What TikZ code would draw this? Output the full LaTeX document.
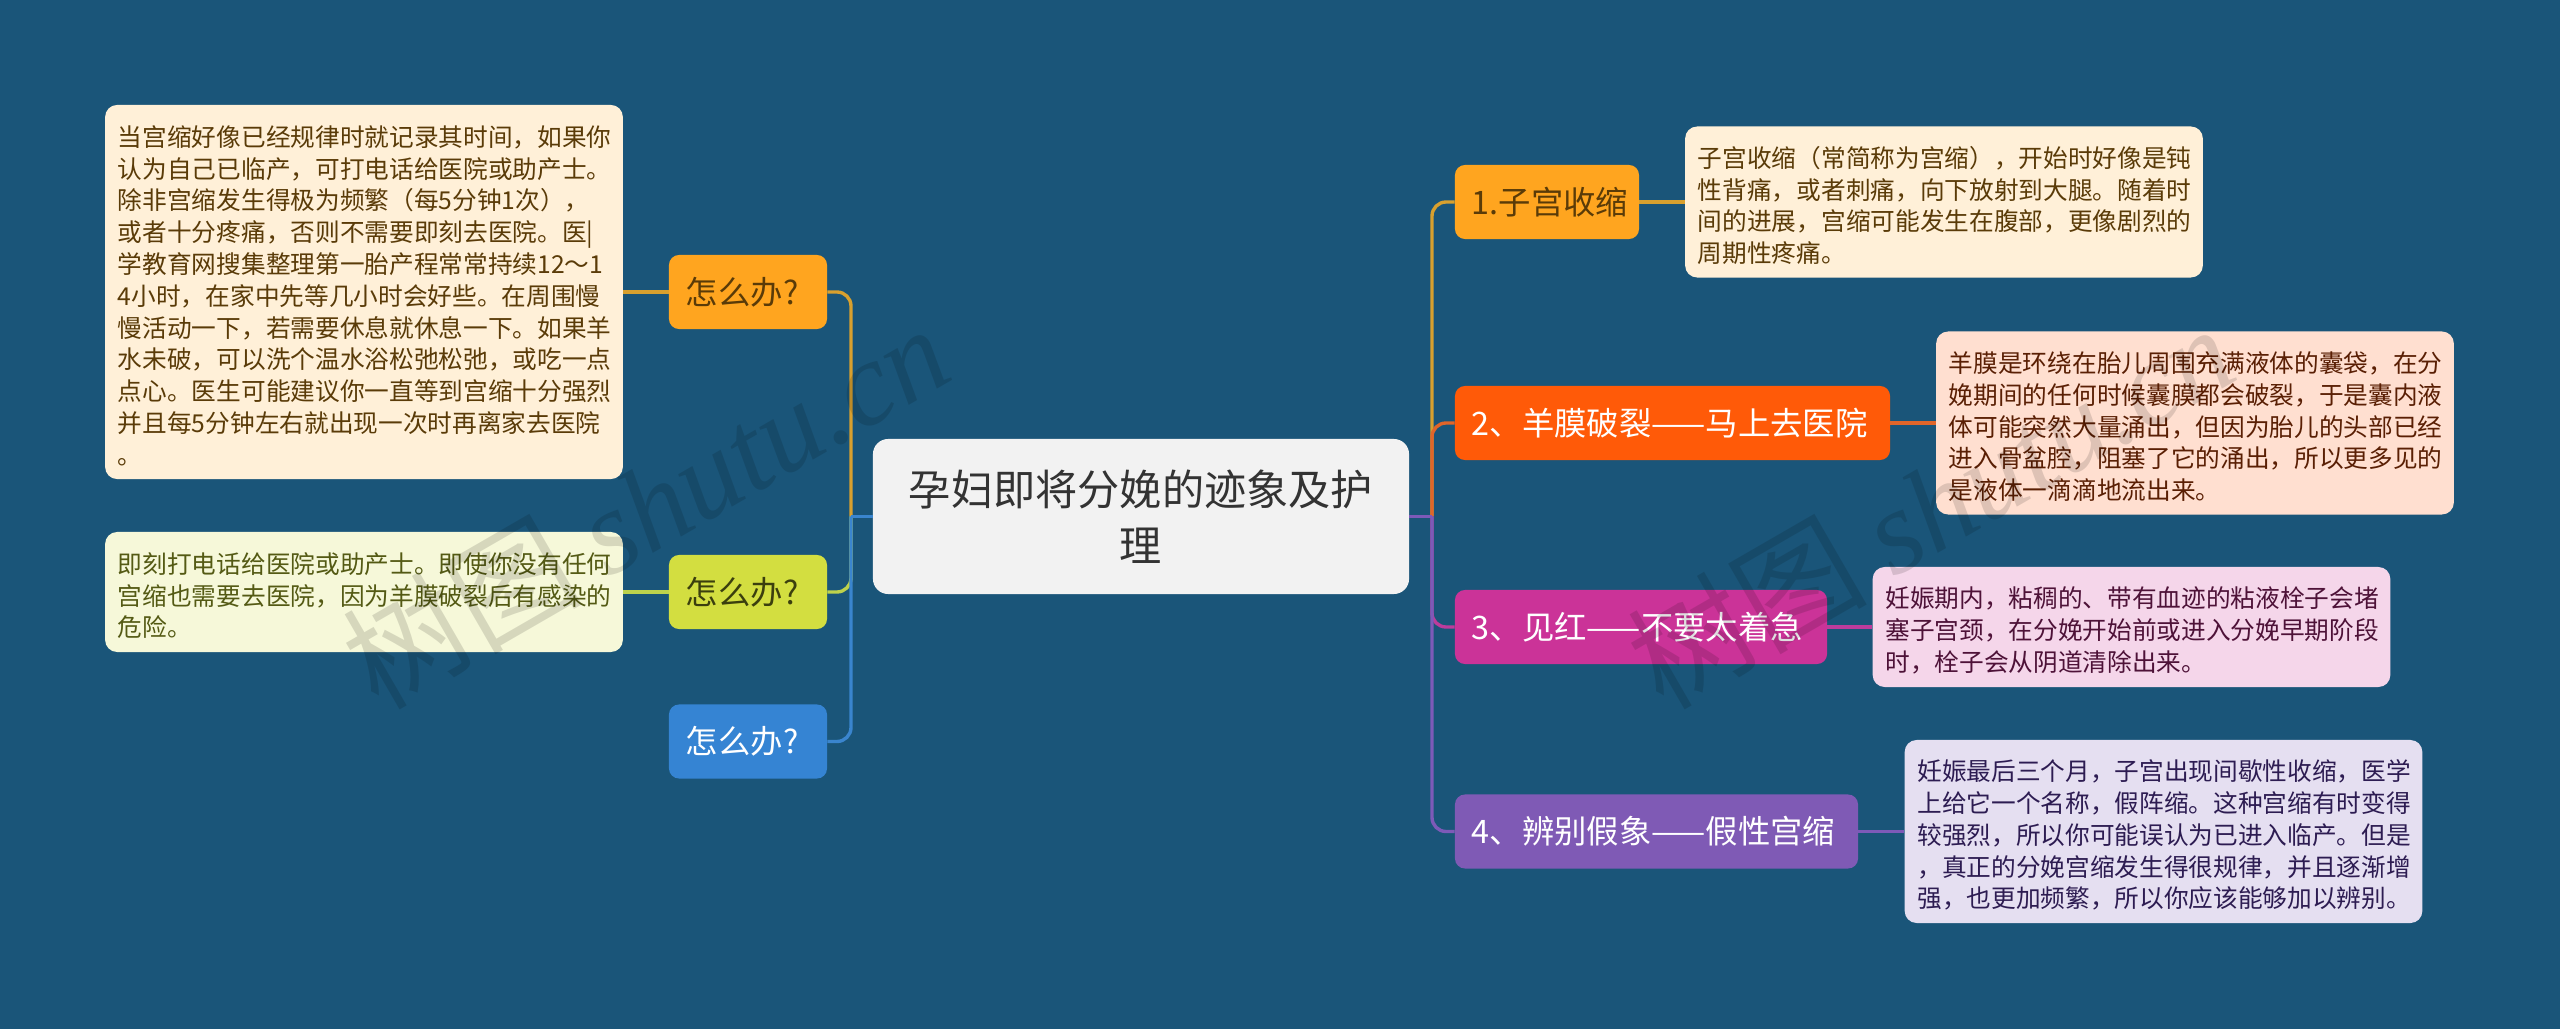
\documentclass[tikz,border=0pt]{standalone}
\usepackage{fontspec}
\usepackage{tikz}
\usetikzlibrary{shapes,arrows,positioning}
\setmainfont{Noto Sans CJK SC}
\newfontfamily\latinserif{Liberation Serif}[ItalicFont=* Italic]
\definecolor{bgblue}{HTML}{1A5579}
\definecolor{amber}{HTML}{FFA51F}
\definecolor{lime}{HTML}{D3DE40}
\definecolor{azure}{HTML}{3584D3}
\definecolor{flame}{HTML}{FF5A08}
\definecolor{plum}{HTML}{CB3398}
\definecolor{violet}{HTML}{7F5AB5}
\definecolor{amberln}{HTML}{D8A02E}
\definecolor{limeln}{HTML}{BDD24C}
\definecolor{azureln}{HTML}{3A85CE}
\definecolor{flameln}{HTML}{E0652A}
\definecolor{plumln}{HTML}{BC3C9C}
\definecolor{violetln}{HTML}{7D5AB8}
\definecolor{amberpale}{HTML}{FFF0D8}
\definecolor{limepale}{HTML}{F6F8D9}
\definecolor{flamepale}{HTML}{FFDFD0}
\definecolor{plumpale}{HTML}{F5D6EA}
\definecolor{violetpale}{HTML}{E5DFF1}
\definecolor{ambertxt}{HTML}{5A3B08}
\definecolor{limetxt}{HTML}{545A14}
\definecolor{flametxt}{HTML}{5A1F04}
\definecolor{plumtxt}{HTML}{4E1238}
\definecolor{violettxt}{HTML}{2D1C52}
\tikzstyle{rootnode} = [rectangle, rounded corners=.38cm, fill=black!5, text=black!80, minimum width=13.4cm, minimum height=3.875cm, inner sep=0, align=center, font=\fontsize{30}{40}\selectfont]
\tikzstyle{topic} = [rectangle, rounded corners=.25cm, minimum height=1.85cm, inner xsep=.425cm, inner ysep=0, align=left, font=\fontsize{23}{28}\selectfont]
\tikzstyle{info} = [rectangle, rounded corners=.3cm, text width=12.3cm, inner xsep=.32cm, inner ysep=0, align=left, font=\fontsize{17.55}{22.6}\selectfont, execute at begin node={\rule{0pt}{20pt}}]
\tikzstyle{line} = [draw, line width=2.4pt, rounded corners=.35cm]
\tikzstyle{wmark} = [text=black, text opacity=.13, rotate=30, inner sep=0, font=\fontsize{85}{90}\selectfont]
\begin{document}
\begin{tikzpicture}[x=.025cm, y=-.025cm]
			\fill [bgblue] (0, 0) rectangle (2560, 1029);
			\useasboundingbox (0, 0) rectangle (2560, 1029);
			
			\node [rootnode] (root) at (1141, 516.5) {孕妇即将分娩的迹象及护\\理};
			\coordinate (ljoin) at (851, 516.5);
			\coordinate (rjoin) at (1432, 516.5);
			
			\node [topic, fill=amber, text=ambertxt, text width=3.1cm] (aska) at (748, 292) {怎么办?};
			\node [topic, fill=lime, text=limetxt!70!black, text width=3.1cm] (askb) at (748, 592) {怎么办?};
			\node [topic, fill=azure, text=white, text width=3.1cm] (askc) at (748, 741.5) {怎么办?};
			\node [info, fill=amberpale, text=ambertxt, minimum height=9.35cm] (ansa) at (364, 292) {当宫缩好像已经规律时就记录其时间，如果你\\认为自己已临产，可打电话给医院或助产士。\\除非宫缩发生得极为频繁（每5分钟1次），\\或者十分疼痛，否则不需要即刻去医院。医|\\学教育网搜集整理第一胎产程常常持续12～1\\4小时，在家中先等几小时会好些。在周围慢\\慢活动一下，若需要休息就休息一下。如果羊\\水未破，可以洗个温水浴松弛松弛，或吃一点\\点心。医生可能建议你一直等到宫缩十分强烈\\并且每5分钟左右就出现一次时再离家去医院\\。};
			\node [info, fill=limepale, text=limetxt, minimum height=3cm] (ansb) at (364, 592) {即刻打电话给医院或助产士。即使你没有任何\\宫缩也需要去医院，因为羊膜破裂后有感染的\\危险。};
			
			\node [topic, fill=amber, text=ambertxt, text width=3.75cm] (stepa) at (1547, 202) {1.子宫收缩};
			\node [topic, fill=flame, text=white, text width=10.025cm] (stepb) at (1672.5, 423) {2、羊膜破裂——马上去医院};
			\node [topic, fill=plum, text=white, text width=8.45cm] (stepc) at (1641, 627) {3、见红——不要太着急};
			\node [topic, fill=violet, text=white, text width=9.225cm] (stepd) at (1656.5, 831.5) {4、辨别假象——假性宫缩};
			\node [info, fill=amberpale, text=ambertxt, minimum height=3.775cm] (infoa) at (1944, 202) {子宫收缩（常简称为宫缩），开始时好像是钝\\性背痛，或者刺痛，向下放射到大腿。随着时\\间的进展，宫缩可能发生在腹部，更像剧烈的\\周期性疼痛。};
			\node [info, fill=flamepale, text=flametxt, minimum height=4.575cm] (infob) at (2195, 423) {羊膜是环绕在胎儿周围充满液体的囊袋，在分\\娩期间的任何时候囊膜都会破裂，于是囊内液\\体可能突然大量涌出，但因为胎儿的头部已经\\进入骨盆腔，阻塞了它的涌出，所以更多见的\\是液体一滴滴地流出来。};
			\node [info, fill=plumpale, text=plumtxt, minimum height=3cm] (infoc) at (2131.5, 627) {妊娠期内，粘稠的、带有血迹的粘液栓子会堵\\塞子宫颈，在分娩开始前或进入分娩早期阶段\\时，栓子会从阴道清除出来。};
			\node [info, fill=violetpale, text=violettxt, minimum height=4.575cm] (infod) at (2163.5, 831.5) {妊娠最后三个月，子宫出现间歇性收缩，医学\\上给它一个名称，假阵缩。这种宫缩有时变得\\较强烈，所以你可能误认为已进入临产。但是\\，真正的分娩宫缩发生得很规律，并且逐渐增\\强，也更加频繁，所以你应该能够加以辨别。};
			
			\path [line, draw=amberln] (ljoin) |- (aska.east);
			\path [line, draw=limeln] (ljoin) |- (askb.east);
			\path [line, draw=azureln] (ljoin) |- (askc.east);
			\path [line, draw=azureln] (root.west) -- (ljoin);
			\path [line, draw=amberln] (aska.west) -- (ansa.east);
			\path [line, draw=limeln] (askb.west) -- (ansb.east);
			
			\path [line, draw=amberln] (rjoin) |- (stepa.west);
			\path [line, draw=flameln] (rjoin) |- (stepb.west);
			\path [line, draw=plumln] (rjoin) |- (stepc.west);
			\path [line, draw=violetln] (rjoin) |- (stepd.west);
			\path [line, draw=violetln] (root.east) -- (rjoin);
			\path [line, draw=amberln] (stepa.east) -- (infoa.west);
			\path [line, draw=flameln] (stepb.east) -- (infob.west);
			\path [line, draw=plumln] (stepc.east) -- (infoc.west);
			\path [line, draw=violetln] (stepd.east) -- (infod.west);
			
			\node [wmark] (wmleft) at (645, 505) {树图 {\latinserif\itshape shutu.cn}};
			\node [wmark] (wmright) at (1930, 505) {树图 {\latinserif\itshape shutu.cn}};
		\end{tikzpicture}
\end{document}
